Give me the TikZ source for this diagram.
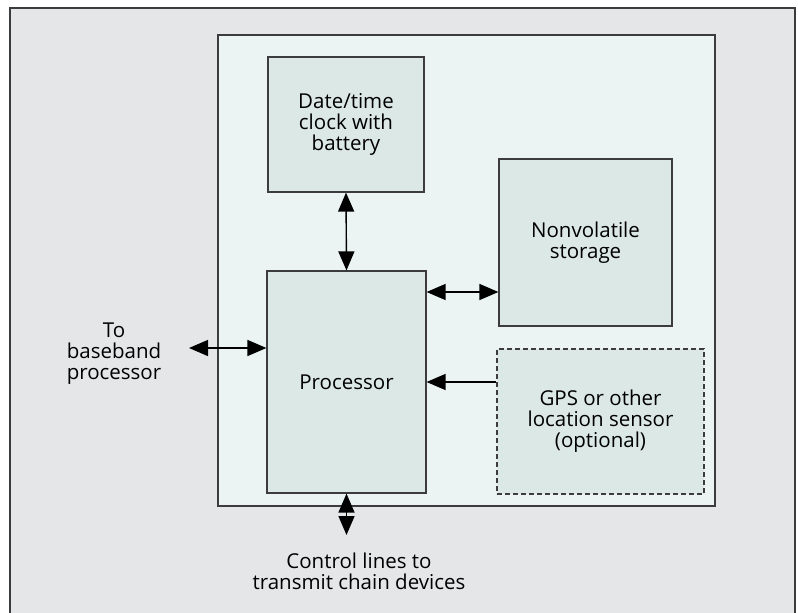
\documentclass[tikz,border=0pt]{standalone}
\usepackage{fontspec}
\setmainfont{Open Sans}
\usepackage{tikz}
\usetikzlibrary{arrows.meta, positioning}
\definecolor{framegray}{RGB}{229,230,232}
\definecolor{boardfill}{RGB}{236,243,243}
\definecolor{unitfill}{RGB}{220,232,230}
\definecolor{linegray}{RGB}{60,60,60}
\tikzstyle{unit} = [rectangle, draw=linegray, line width=1.2pt, fill=unitfill, align=center, inner sep=0pt]
\tikzstyle{optunit} = [unit, dashed, dash pattern=on 5pt off 3pt]
\tikzstyle{lbl} = [align=center, inner sep=0pt]
\tikzstyle{link} = [line width=1.4pt, black, {Triangle[length=19pt,width=16pt]}-{Triangle[length=19pt,width=16pt]}]
\tikzstyle{feed} = [line width=1.4pt, black, -{Triangle[length=19pt,width=16pt]}]

\begin{document}
\begin{tikzpicture}[x=1pt, y=-1pt,
every node/.style={font=\fontsize{20.5}{21}\selectfont}]
\useasboundingbox (0,0) rectangle (798,613);
% background frame and board
\draw[draw=linegray, line width=1.3pt, fill=framegray] (10,8) rectangle (795,640);
\draw[draw=linegray, line width=1.3pt, fill=boardfill] (218,35) rectangle (715,506);
% units
\node[unit, minimum width=156pt, minimum height=135pt] (Clock) at (346,124.5) {Date/time\\clock with\\battery};
\node[unit, minimum width=159pt, minimum height=222pt] (Proc) at (346.5,382) {Processor};
\node[unit, minimum width=173pt, minimum height=167pt] (Store) at (585.5,242.5) {Nonvolatile\\storage};
\node[optunit, minimum width=207pt, minimum height=145pt] (GPS) at (600.5,421.5) {GPS or other\\location sensor\\(optional)};
% outside labels
\node[lbl] (Base) at (114,354) {To\\baseband\\processor};
\node[lbl] (Ctrl) at (359,571) {Control lines to\\transmit chain devices};
\coordinate (Base-end) at (189,348);
\coordinate (Ctrl-end) at (346.5,535);
% connectors
\draw[link] (Clock.south) -- (Proc.north);
\draw[link] (Proc.east |- 0,292) -- (Store.west |- 0,292);
\draw[feed] (GPS.west |- 0,382) -- (Proc.east |- 0,382);
\draw[link] (Base-end) -- (Proc.west |- Base-end);
\draw[link] (Proc.south) -- (Ctrl-end);
\end{tikzpicture}
\end{document}
